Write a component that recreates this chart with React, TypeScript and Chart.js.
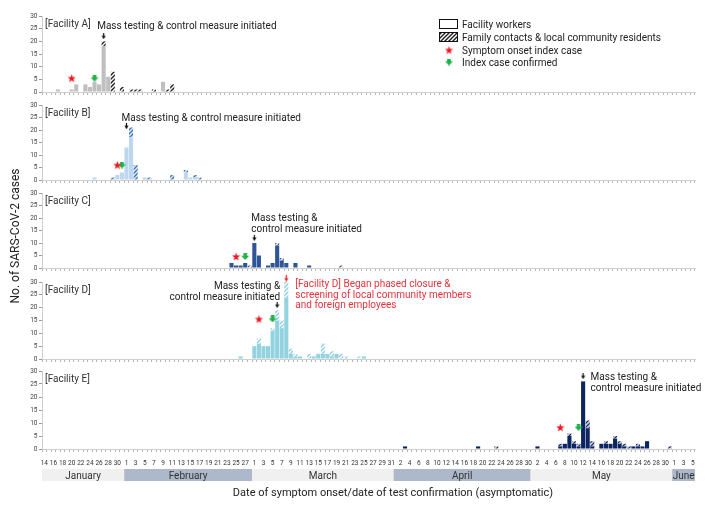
import React, { useEffect, useRef } from 'react';
import { Chart, registerables } from 'chart.js';

Chart.register(...registerables);
Chart.defaults.font.family = 'Roboto';

type Pair = [string, number];

// ---------- categories (daily, 14 Jan – 5 Jun) ----------
const monthNames = ['January', 'February', 'March', 'April', 'May', 'June'];
const monthShort = ['Jan', 'Feb', 'Mar', 'Apr', 'May', 'Jun'];
const monthFirstDay = [14, 1, 1, 1, 1, 1];
const monthLastDay = [31, 28, 31, 30, 31, 5];

const dayKeys: string[] = [];
const dayNums: string[] = [];
const dayMonth: number[] = [];
monthShort.forEach((m, mi) => {
  for (let d = monthFirstDay[mi]; d <= monthLastDay[mi]; d++) {
    dayKeys.push(`${m} ${d}`);
    dayNums.push(String(d));
    dayMonth.push(mi);
  }
});

// ---------- series values ----------
const aWorkers: Pair[] = [['Jan 17', 1], ['Jan 20', 1], ['Jan 21', 3], ['Jan 23', 3], ['Jan 24', 2], ['Jan 25', 4], ['Jan 26', 3], ['Jan 27', 18], ['Jan 28', 6], ['Feb 9', 4]];
const aFamily: Pair[] = [['Jan 27', 2], ['Jan 29', 8], ['Jan 31', 2], ['Feb 2', 1], ['Feb 3', 1], ['Feb 4', 1], ['Feb 7', 1], ['Feb 10', 1], ['Feb 11', 3]];

const bWorkers: Pair[] = [['Jan 25', 1], ['Jan 30', 2], ['Jan 31', 3], ['Feb 1', 13], ['Feb 2', 17], ['Feb 5', 1], ['Feb 14', 3], ['Feb 15', 1], ['Feb 16', 1]];
const bFamily: Pair[] = [['Jan 29', 1], ['Feb 2', 4], ['Feb 3', 6], ['Feb 6', 1], ['Feb 11', 2], ['Feb 14', 1], ['Feb 16', 1], ['Feb 17', 1]];

const cWorkers: Pair[] = [['Feb 24', 2], ['Feb 25', 1], ['Feb 26', 1], ['Feb 27', 2], ['Mar 1', 10], ['Mar 2', 5], ['Mar 4', 1], ['Mar 5', 2], ['Mar 6', 9], ['Mar 7', 3], ['Mar 8', 2], ['Mar 10', 2], ['Mar 13', 1]];
const cFamily: Pair[] = [['Feb 28', 1], ['Mar 6', 1], ['Mar 7', 1], ['Mar 20', 1]];

const dWorkers: Pair[] = [['Feb 26', 1], ['Mar 1', 5], ['Mar 2', 6], ['Mar 3', 5], ['Mar 4', 5], ['Mar 5', 11], ['Mar 6', 15], ['Mar 7', 12], ['Mar 8', 24], ['Mar 9', 2], ['Mar 10', 1], ['Mar 11', 1], ['Mar 14', 1], ['Mar 15', 2], ['Mar 16', 2], ['Mar 17', 2], ['Mar 18', 1], ['Mar 19', 2], ['Mar 25', 1]];
const dFamily: Pair[] = [['Mar 2', 2], ['Mar 5', 1], ['Mar 6', 4], ['Mar 7', 3], ['Mar 8', 6], ['Mar 9', 2], ['Mar 10', 1], ['Mar 13', 2], ['Mar 16', 4], ['Mar 18', 2], ['Mar 20', 2], ['Mar 21', 1], ['Mar 24', 1]];

const eWorkers: Pair[] = [['Apr 3', 1], ['Apr 19', 1], ['May 2', 1], ['May 7', 1], ['May 8', 2], ['May 9', 5], ['May 10', 2], ['May 11', 1], ['May 12', 26], ['May 13', 8], ['May 14', 1], ['May 16', 2], ['May 17', 2], ['May 18', 2], ['May 19', 4], ['May 20', 2], ['May 21', 1], ['May 23', 1], ['May 24', 1], ['May 25', 1], ['May 26', 3]];
const eFamily: Pair[] = [['Apr 23', 1], ['May 7', 1], ['May 9', 1], ['May 10', 1], ['May 11', 1], ['May 13', 3], ['May 14', 2], ['May 17', 1], ['May 19', 1], ['May 20', 1], ['May 21', 1], ['May 22', 1], ['May 24', 1], ['May 31', 1]];

// markers per facility (A..E)
const onsetMarkers: Pair[] = [['Jan 20', 5.5], ['Jan 30', 6], ['Feb 25', 4.6], ['Mar 2', 15.6], ['May 7', 8.3]];
const confirmedMarkers: Pair[] = [['Jan 25', 5.5], ['Jan 31', 6], ['Feb 27', 4.6], ['Mar 5', 15.6], ['May 11', 8.3]];
const massTestingMarkers: Pair[] = [['Jan 27', 22], ['Feb 1', 21.5], ['Mar 1', 12], ['Mar 6', 21], ['May 12', 28]];
const closureMarkers: Pair[] = [['Mar 8', 31.5]];

const facilityLabels = ['[Facility A]', '[Facility B]', '[Facility C]', '[Facility D]', '[Facility E]'];
const massTestingText = [
  ['Mass testing & control measure initiated'],
  ['Mass testing & control measure initiated'],
  ['Mass testing &', 'control measure initiated'],
  ['Mass testing &', 'control measure initiated'],
  ['Mass testing &', 'control measure initiated'],
];
const closureText = ['[Facility D] Began phased closure &', 'screening of local community members', 'and foreign employees'];

const legendLabels = ['Facility workers', 'Family contacts & local community residents', 'Symptom onset index case', 'Index case confirmed'];
const xTitle = 'Date of symptom onset/date of test confirmation (asymptomatic)';
const yTitle = 'No. of SARS-CoV-2 cases';

// ---------- styles ----------
const PAD_TOP = 14;
const SMALL_AXIS_H = 8;
const PAGE_H = 509;

const PANELS = [
  { workers: aWorkers, family: aFamily, solid: '#bfbfbf', hatchBg: '#ffffff', hatchFg: '#1e1e1e', hatchW: 1.4, top: 16, bottom: 95, note: { dx: -6.5, dy: -11, align: 'left' } },
  { workers: bWorkers, family: bFamily, solid: '#bdd7ee', hatchBg: '#dbe8f6', hatchFg: '#3d72c2', hatchW: 1.3, top: 105, bottom: 183, note: { dx: -5, dy: -8.5, align: 'left' } },
  { workers: cWorkers, family: cFamily, solid: '#2f5597', hatchBg: '#ffffff', hatchFg: '#2f5597', hatchW: 1.3, top: 193, bottom: 271, note: { dx: -3, dy: -21, align: 'left' } },
  { workers: dWorkers, family: dFamily, solid: '#93d3df', hatchBg: '#ffffff', hatchFg: '#8ccfdc', hatchW: 1.4, top: 282, bottom: 362, note: { dx: 3, dy: -20, align: 'right' } },
  { workers: eWorkers, family: eFamily, solid: '#0c2461', hatchBg: '#c9cdd6', hatchFg: '#0c2461', hatchW: 1.2, top: 371, bottom: 449, note: { dx: 7.5, dy: 0, align: 'left' } },
];

function toSeries(pairs: Pair[]): (number | null)[] {
  const arr: (number | null)[] = dayKeys.map(() => null);
  pairs.forEach(([k, v]) => {
    const i = dayKeys.indexOf(k);
    if (i >= 0) arr[i] = v;
  });
  return arr;
}

function makePattern(bg: string, fg: string, lw: number) {
  const c = document.createElement('canvas');
  c.width = 4;
  c.height = 4;
  const g = c.getContext('2d')!;
  g.fillStyle = bg;
  g.fillRect(0, 0, 4, 4);
  g.strokeStyle = fg;
  g.lineWidth = lw;
  g.beginPath();
  g.moveTo(-1, 5); g.lineTo(5, -1);
  g.moveTo(-1, 1); g.lineTo(1, -1);
  g.moveTo(3, 5); g.lineTo(5, 3);
  g.stroke();
  return g.createPattern(c, 'repeat')!;
}

function starImg() {
  const c = document.createElement('canvas');
  c.width = 9; c.height = 9;
  const g = c.getContext('2d')!;
  g.fillStyle = '#f0141e';
  g.beginPath();
  for (let k = 0; k < 10; k++) {
    const ang = -Math.PI / 2 + (k * Math.PI) / 5;
    const r = k % 2 ? 1.8 : 4.3;
    const x = 4.5 + r * Math.cos(ang);
    const y = 4.9 + r * Math.sin(ang);
    if (k === 0) g.moveTo(x, y); else g.lineTo(x, y);
  }
  g.closePath();
  g.fill();
  return c;
}

function greenArrowImg() {
  const c = document.createElement('canvas');
  c.width = 8; c.height = 7;
  const g = c.getContext('2d')!;
  g.fillStyle = '#1fb14a';
  g.fillRect(2.2, 0, 3.6, 3.2);
  g.beginPath();
  g.moveTo(0, 2.8); g.lineTo(8, 2.8); g.lineTo(4, 7); g.closePath();
  g.fill();
  return c;
}

function thinArrowImg(color: string, h: number) {
  const c = document.createElement('canvas');
  c.width = 5; c.height = h;
  const g = c.getContext('2d')!;
  g.strokeStyle = color;
  g.fillStyle = color;
  g.lineWidth = 1.2;
  g.beginPath();
  g.moveTo(2.5, 0); g.lineTo(2.5, h - 3);
  g.stroke();
  g.beginPath();
  g.moveTo(0.4, h - 3.6); g.lineTo(4.6, h - 3.6); g.lineTo(2.5, h); g.closePath();
  g.fill();
  return c;
}

function markerDataset(p: Pair | undefined, img: HTMLCanvasElement, stack: string) {
  return {
    type: 'line' as const,
    data: p ? toSeries([p]) : dayKeys.map(() => null),
    showLine: false,
    pointStyle: img,
    pointRadius: 10,
    pointHoverRadius: 10,
    stack,
    clip: false as any,
    order: -1,
  };
}

// draw text so that its visual middle sits at y
function midText(ctx: CanvasRenderingContext2D, t: string, x: number, y: number, size: number) {
  ctx.fillText(t, x, y + size * 0.36);
}

function buildConfig(pi: number, xh: number) {
  const spec = PANELS[pi];
  const star = starImg();
  const green = greenArrowImg();
  const blackArrow = thinArrowImg('#111111', 6);
  const redArrow = thinArrowImg('#e8232c', 7);
  const hatch = makePattern(spec.hatchBg, spec.hatchFg, spec.hatchW);
  const legendHatch = makePattern('#ffffff', '#1e1e1e', 1.4);
  const isLast = pi === PANELS.length - 1;

  const datasets: any[] = [
    { type: 'bar', data: toSeries(spec.workers), backgroundColor: spec.solid, stack: 'cases', barPercentage: 1, categoryPercentage: 0.9 },
    { type: 'bar', data: toSeries(spec.family), backgroundColor: hatch, stack: 'cases', barPercentage: 1, categoryPercentage: 0.9 },
    markerDataset(onsetMarkers[pi], star, 's1'),
    markerDataset(confirmedMarkers[pi], green, 's2'),
    markerDataset(massTestingMarkers[pi], blackArrow, 's3'),
  ];
  if (pi === 3) datasets.push(markerDataset(closureMarkers[0], redArrow, 's4'));

  const overlay = {
    id: 'overlay' + pi,
    afterDraw(chart: any) {
      const ctx = chart.ctx as CanvasRenderingContext2D;
      const xs = chart.scales.x;
      const ys = chart.scales.y;
      const a = chart.chartArea;
      ctx.save();
      ctx.textBaseline = 'alphabetic';
      ctx.font = '10px Roboto';
      ctx.fillStyle = '#333333';
      ctx.textAlign = 'left';
      midText(ctx, facilityLabels[pi], a.left + 3, a.top + 7.5, 10);

      // mass testing note
      const mt = massTestingMarkers[pi];
      const mx = xs.getPixelForValue(dayKeys.indexOf(mt[0]));
      const my = ys.getPixelForValue(mt[1]);
      ctx.fillStyle = '#222222';
      ctx.textAlign = spec.note.align as CanvasTextAlign;
      massTestingText[pi].forEach((t, k) => midText(ctx, t, mx + spec.note.dx, my + spec.note.dy + k * 11.3, 10));

      if (pi === 3) {
        const cm = closureMarkers[0];
        const cx = xs.getPixelForValue(dayKeys.indexOf(cm[0]));
        const cy = ys.getPixelForValue(cm[1]);
        ctx.fillStyle = '#e8323a';
        ctx.textAlign = 'left';
        closureText.forEach((t, k) => midText(ctx, t, cx + 9, cy + 5.5 + k * 10.6, 10));
      }

      if (pi === 0) {
        // legend
        const oy = a.top - 16;
        ctx.lineWidth = 1;
        ctx.strokeStyle = '#111111';
        ctx.fillStyle = '#ffffff';
        ctx.fillRect(439.5, oy + 19.5, 18, 9);
        ctx.strokeRect(439.5, oy + 19.5, 18, 9);
        ctx.fillStyle = legendHatch;
        ctx.fillRect(439.5, oy + 32.5, 18, 9);
        ctx.strokeRect(439.5, oy + 32.5, 18, 9);
        ctx.drawImage(star, 449 - 4.5, oy + 50 - 4.5);
        ctx.drawImage(green, 449 - 4, oy + 62 - 3.5);
        ctx.fillStyle = '#222222';
        ctx.textAlign = 'left';
        const ly = [24, 37, 50, 62];
        legendLabels.forEach((t, k) => midText(ctx, t, 462, oy + ly[k], 10));
      }

      if (isLast) {
        const half = (xs.getPixelForValue(1) - xs.getPixelForValue(0)) / 2;
        ctx.font = '10px Roboto';
        monthNames.forEach((m, mi) => {
          const first = dayMonth.indexOf(mi);
          const last = dayMonth.lastIndexOf(mi);
          const l = xs.getPixelForValue(first) - half;
          const r = xs.getPixelForValue(last) + half;
          ctx.fillStyle = mi % 2 ? '#adb9ca' : '#f0f0f0';
          ctx.fillRect(l, a.bottom + 20, r - l, 12);
          ctx.fillStyle = '#333333';
          ctx.textAlign = 'center';
          midText(ctx, m, (l + r) / 2, a.bottom + 26, 10);
        });
        ctx.font = '11px Roboto';
        ctx.fillStyle = '#222222';
        ctx.textAlign = 'center';
        midText(ctx, xTitle, 393, a.bottom + 43, 11);
      }
      ctx.restore();
    },
  };

  return {
    type: 'bar' as const,
    data: { labels: dayKeys, datasets },
    options: {
      responsive: false,
      animation: false as const,
      events: [] as any[],
      layout: { padding: { top: PAD_TOP, left: 0, right: 17, bottom: 0 } },
      plugins: { legend: { display: false }, tooltip: { enabled: false } },
      scales: {
        x: {
          type: 'category' as const,
          stacked: true,
          offset: true,
          afterFit: (s: any) => { s.height = xh; },
          grid: { drawOnChartArea: false, drawTicks: true, tickLength: 3, color: '#b5b5b5', offset: true },
          border: { display: true, color: '#cfcfcf' },
          ticks: {
            display: isLast,
            autoSkip: false,
            maxRotation: 0,
            minRotation: 0,
            padding: 7,
            color: '#333333',
            font: { size: 6.5 },
            callback: (_v: any, i: number) => (i % 2 === 0 ? dayNums[i] : ''),
          },
        },
        y: {
          stacked: true,
          min: 0,
          max: 30,
          afterFit: (s: any) => { s.width = 42; },
          grid: { drawOnChartArea: false, drawTicks: true, tickLength: 3, color: '#9a9a9a' },
          border: { display: true, color: '#cfcfcf' },
          ticks: { stepSize: 5, padding: 1.5, color: '#444444', font: { size: 6.5 } },
        },
      },
    },
    plugins: [overlay],
  };
}

function Panel({ index }: { index: number }) {
  const ref = useRef<HTMLCanvasElement>(null);
  const spec = PANELS[index];
  const isLast = index === PANELS.length - 1;
  const canvasTop = spec.top - PAD_TOP;
  const xh = isLast ? PAGE_H - spec.bottom : SMALL_AXIS_H;
  const h = spec.bottom - canvasTop + xh;
  useEffect(() => {
    const chart = new Chart(ref.current as HTMLCanvasElement, buildConfig(index, xh) as any);
    return () => chart.destroy();
  }, []);
  return (
    <canvas
      ref={ref}
      width={712}
      height={h}
      style={{ position: 'absolute', left: 0, top: canvasTop, width: 712, height: h, display: 'block' }}
    />
  );
}

export default function App() {
  return (
    <div style={{ position: 'absolute', left: 0, top: 0, width: 712, height: PAGE_H, background: '#ffffff', overflow: 'hidden' }}>
      {PANELS.map((_, i) => (
        <Panel key={i} index={i} />
      ))}
      <div
        style={{
          position: 'absolute',
          left: 15 - 100,
          top: 236 - 8,
          width: 200,
          height: 16,
          lineHeight: '16px',
          textAlign: 'center',
          transform: 'rotate(-90deg)',
          fontFamily: 'Roboto',
          fontSize: 12,
          color: '#222222',
          whiteSpace: 'nowrap',
        }}
      >
        {yTitle}
      </div>
    </div>
  );
}
